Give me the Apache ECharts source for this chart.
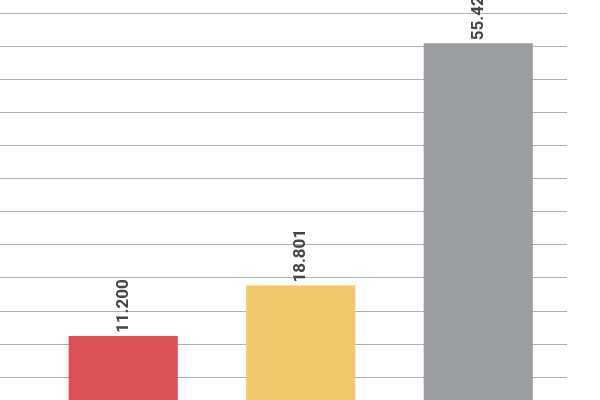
<!DOCTYPE html>
<html>
<head>
<meta charset="utf-8">
<script src="https://cdn.jsdelivr.net/npm/echarts@6/dist/echarts.min.js"></script>
<style>
  html, body { margin: 0; padding: 0; background: #fff; }
  #main { width: 600px; height: 400px; }
</style>
</head>
<body>
<div id="main"></div>
<script>
// first category sits off the left edge of the picture
const categories = ["", "A", "B", "C"];
const values = [null, 11.2, 18.801, 55.42];
const colors = ["#ffffff", "#dd5257", "#efc96b", "#9b9ea1"];

const chart = echarts.init(document.getElementById("main"));

let option = {
  animation: false,
  grid: {
    left: -143,
    top: 13,
    width: 710,
    height: 397, // baseline sits just below the picture
    outerBoundsMode: "none", // v6 would otherwise squeeze the grid back inside
  },
  xAxis: {
    type: "category",
    data: categories,
    axisLine: { show: false },
    axisTick: { show: false },
    axisLabel: { show: false },
  },
  yAxis: {
    type: "value",
    min: 0,
    max: 60,
    interval: 5,
    axisLine: { show: false },
    axisTick: { show: false },
    axisLabel: { show: false },
    splitLine: {
      lineStyle: { color: "#b0b0b0", width: 1 },
    },
  },
  series: [
    {
      type: "bar",
      barWidth: "61.5%",
      data: values.map((v, i) => ({
        value: v,
        itemStyle: { color: colors[i] },
      })),
      label: {
        show: true,
        position: "top",
        rotate: 90,
        align: "left",
        verticalAlign: "middle",
        distance: 3,
        fontFamily: "Roboto",
        fontSize: 17,
        fontWeight: "bold",
        color: "#454545",
        formatter: (p) => (p.value == null ? "" : p.value.toFixed(3)),
      },
    },
  ],
};

chart.setOption(option);
</script>
</body>
</html>
